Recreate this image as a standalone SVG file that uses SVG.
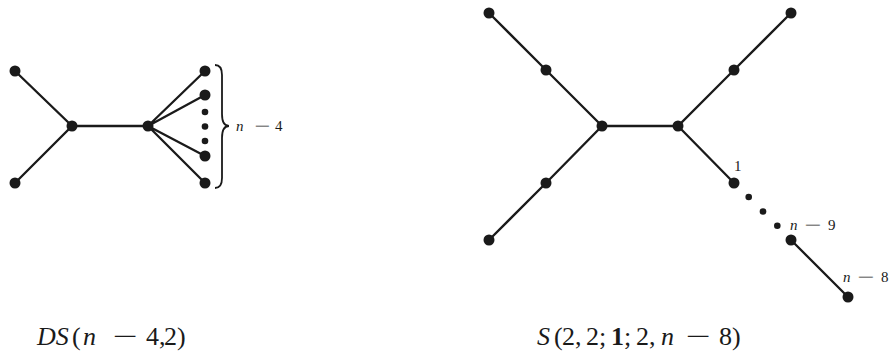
<svg xmlns="http://www.w3.org/2000/svg" width="892" height="354" viewBox="0 0 892 354">
<style>
.e{stroke:#1a1a1a;stroke-width:2.3;fill:none;stroke-linecap:round}
.v{fill:#1a1a1a}
.d{fill:#1a1a1a}
.t{font-family:"Liberation Serif","Times New Roman",serif;fill:#1a1a1a}
.i{font-style:italic}
.s{font-size:15px}
.c{font-size:26px}
</style>
<rect width="892" height="354" fill="#fff"/>
<g id="connectors">
<path class="e" d="M15,71 L72,126 L15,183 M72,126 L148,126 M148,126 L205,71 M148,126 L205,95 M148,126 L205,156 M148,126 L205,183"/>
<path class="e" d="M489,13 L546,70 L602,126 L546,183 L489,240 M602,126 L678,126 L734,70 L791,13 M678,126 L734,183 M791,240 L848,297"/>
<path d="M215,65 Q222,65 222,75 L222,114 Q222,126 229,126 Q222,126 222,138 L222,178 Q222,188 215,188" stroke="#1a1a1a" stroke-width="1.8" fill="none"/>
</g>
<g id="ds-left-top"><circle class="v" cx="15" cy="71" r="5.5"/></g>
<g id="ds-left-bottom"><circle class="v" cx="15" cy="183" r="5.5"/></g>
<g id="ds-center-left"><circle class="v" cx="72" cy="126" r="5.5"/></g>
<g id="ds-center-right"><circle class="v" cx="148" cy="126" r="5.5"/></g>
<g id="ds-leaf-1"><circle class="v" cx="205" cy="71" r="5.5"/></g>
<g id="ds-leaf-2"><circle class="v" cx="205" cy="95" r="5.5"/></g>
<g id="ds-leaf-3"><circle class="v" cx="205" cy="156" r="5.5"/></g>
<g id="ds-leaf-4"><circle class="v" cx="205" cy="183" r="5.5"/></g>
<g id="ds-dots">
<circle class="d" cx="205" cy="112" r="3.3"/>
<circle class="d" cx="205" cy="126.5" r="3.3"/>
<circle class="d" cx="205" cy="141" r="3.3"/>
</g>
<g id="ds-label">
<text class="t s i" x="236" y="131">n</text>
<text class="t s" x="254" y="131" textLength="16" lengthAdjust="spacingAndGlyphs">−</text>
<text class="t s" x="275" y="131">4</text>
</g>
<g id="s-a1"><circle class="v" cx="489" cy="13" r="5.5"/></g>
<g id="s-a2"><circle class="v" cx="546" cy="70" r="5.5"/></g>
<g id="s-b1"><circle class="v" cx="489" cy="240" r="5.5"/></g>
<g id="s-b2"><circle class="v" cx="546" cy="183" r="5.5"/></g>
<g id="s-center-left"><circle class="v" cx="602" cy="126" r="5.5"/></g>
<g id="s-center-right"><circle class="v" cx="678" cy="126" r="5.5"/></g>
<g id="s-c1"><circle class="v" cx="791" cy="13" r="5.5"/></g>
<g id="s-c2"><circle class="v" cx="734" cy="70" r="5.5"/></g>
<g id="s-p1"><circle class="v" cx="734" cy="183" r="5.5"/><text class="t s" x="734" y="171">1</text></g>
<g id="s-dots">
<circle class="d" cx="748.7" cy="197" r="3.3"/>
<circle class="d" cx="763" cy="211.5" r="3.3"/>
<circle class="d" cx="777.3" cy="225.7" r="3.3"/>
</g>
<g id="s-p9"><circle class="v" cx="791" cy="240" r="5.5"/>
<text class="t s i" x="790" y="230">n</text>
<text class="t s" x="804" y="230" textLength="17" lengthAdjust="spacingAndGlyphs">−</text>
<text class="t s" x="828" y="230">9</text>
</g>
<g id="s-p8"><circle class="v" cx="848" cy="297" r="5.5"/>
<text class="t s i" x="843" y="282">n</text>
<text class="t s" x="857" y="282" textLength="17" lengthAdjust="spacingAndGlyphs">−</text>
<text class="t s" x="881" y="282">8</text>
</g>
<g id="caption-left">
<text class="t c" y="345"><tspan class="i" x="37">DS</tspan><tspan x="72">(</tspan><tspan class="i" x="83">n</tspan><tspan x="146">4</tspan><tspan x="159">,</tspan><tspan x="164">2</tspan><tspan x="177">)</tspan></text>
<text class="t c" x="113" y="345" textLength="25" lengthAdjust="spacingAndGlyphs">−</text>
</g>
<g id="caption-right">
<text class="t c" y="345"><tspan class="i" x="537">S</tspan><tspan x="554">(</tspan><tspan x="562">2,</tspan><tspan x="586">2;</tspan><tspan x="611" font-weight="bold">1</tspan><tspan x="624">;</tspan><tspan x="636">2,</tspan><tspan class="i" x="661">n</tspan><tspan x="719">8</tspan><tspan x="732">)</tspan></text>
<text class="t c" x="686" y="345" textLength="25" lengthAdjust="spacingAndGlyphs">−</text>
</g>
</svg>
